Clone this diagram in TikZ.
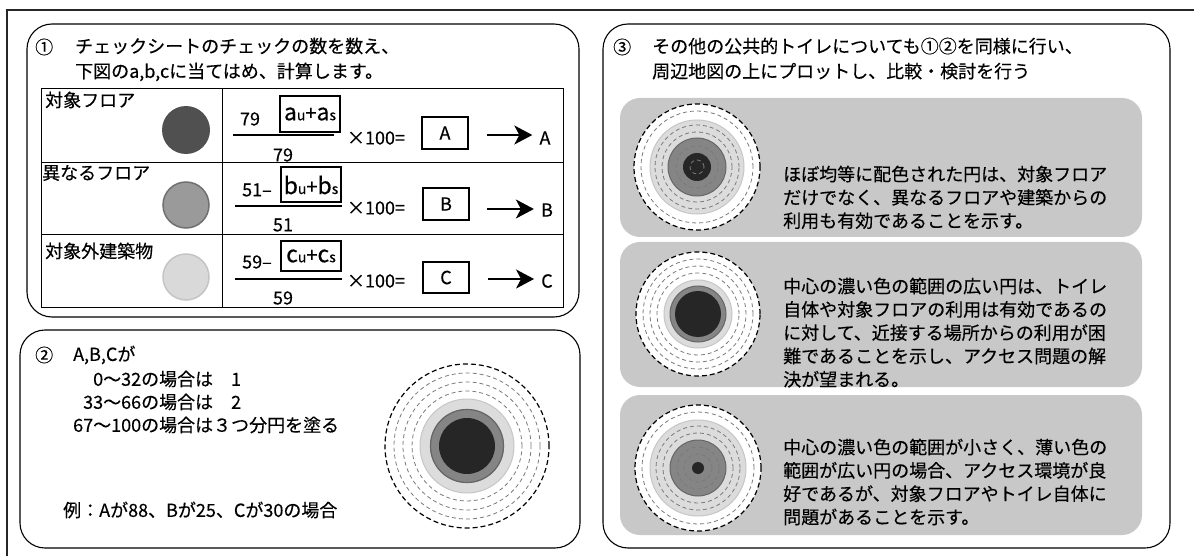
\documentclass[tikz,border=0pt]{standalone}
\usepackage{fontspec}
\setmainfont[FakeBold=0.35,AutoFakeBold=0]{Noto Sans CJK JP}
\usetikzlibrary{arrows.meta}
\definecolor{dk}{HTML}{262626}
\definecolor{md}{HTML}{858585}
\definecolor{mdb}{HTML}{666666}
\definecolor{lt}{HTML}{DCDCDC}
\definecolor{ltb}{HTML}{C6C6C6}
\definecolor{bxg}{HTML}{C8C8C8}
\definecolor{dsg}{HTML}{7A7A7A}
\definecolor{r1}{HTML}{505050}
\definecolor{r2}{HTML}{9A9A9A}
\definecolor{r2b}{HTML}{707070}
\definecolor{r3}{HTML}{D9D9D9}
\definecolor{r3b}{HTML}{C4C4C4}
\newcommand\subpair[2]{{\fontsize{23}{23}\selectfont #1}{\fontsize{14}{14}\selectfont #2}}
\newcommand\bigplus{{\fontsize{20}{20}\selectfont +}}
\begin{document}
\begin{tikzpicture}[x=1pt,y=-1pt,
  panel/.style={draw=black,line width=1.1pt,rounded corners=25pt},
  txt/.style={inner sep=0pt,font=\fontsize{18}{23.3}\selectfont,align=left},
  hdr/.style={inner sep=0pt,font=\fontsize{18}{25}\selectfont,align=left},
  gbox/.style={fill=bxg,rounded corners=20pt},
  fracline/.style={line width=2pt},
  numtxt/.style={inner sep=0pt,font=\fontsize{18}{18}\selectfont},
  subbox/.style={draw,line width=2pt,inner sep=0pt,minimum width=60pt},
  valbox/.style={draw,line width=1.6pt,inner sep=0pt,minimum width=46pt,minimum height=32pt,font=\fontsize{18}{18}\selectfont},
  arr/.style={line width=1.8pt,-{Stealth[length=18pt,width=19pt,inset=5pt]}},
  tdot/.style={circle,inner sep=0pt,minimum size=48pt},
  dsh/.style={draw=dsg,line width=0.8pt,dash pattern=on 4pt off 3pt},
  dshk/.style={draw=black,line width=1.2pt,dash pattern=on 5pt off 3pt}
]
\useasboundingbox (0,0) rectangle (1194,556);
% outer frame
\draw[line width=1.6pt,black!85] (1200,10) -- (7,10) -- (7,562);

% ---------- panel 1 ----------
\draw[panel] (27,24) rectangle (579,317);
\node[hdr,anchor=west] (c1) at (35,47) {①};
\node[hdr,anchor=north west] (h1) at (75,37.5) {チェックシートのチェックの数を数え、\\下図のa,b,cに当てはめ、計算します。};
% table
\draw[line width=1pt] (41,89) rectangle (563,307);
\draw[line width=1pt] (222,89) -- (222,307);
\draw[line width=1pt] (41,163) -- (563,163);
\draw[line width=1pt] (41,235) -- (563,235);
\node[txt,anchor=west] (t1) at (45,100) {対象フロア};
\node[txt,anchor=west] (t2) at (42,173) {異なるフロア};
\node[txt,anchor=west] (t3) at (45,251) {対象外建築物};
\node[tdot,fill=r1] (d1) at (186,130) {};
\node[tdot,fill=r2,draw=r2b,line width=1.5pt,minimum size=46pt] (d2) at (186,205) {};
\node[tdot,fill=r3,draw=r3b,line width=1.5pt,minimum size=46pt] (d3) at (186,277) {};
% row 1
\node[numtxt] (n1) at (250,119) {79};
\node[subbox,minimum height=36pt] (s1) at (310,114) {\subpair{a}{u}\bigplus\subpair{a}{s}};
\draw[fracline] (233,135) -- (334,135);
\node[numtxt] (m1) at (283,155) {79};
\node[numtxt] (x1) at (376,138) {×100=};
\node[valbox] (vA) at (445,133) {A};
\node[numtxt] (lA) at (545,138) {A};
\coordinate (aA) at (487,135);
\draw[arr] (aA) -- (aA -| lA.west) [shorten >=7pt];
% row 2
\node[numtxt] (n2) at (257,190) {51–};
\node[subbox,minimum height=35pt] (s2) at (311,185) {\subpair{b}{u}\bigplus\subpair{b}{s}};
\draw[fracline] (235,206) -- (342,206);
\node[numtxt] (m2) at (283,225) {51};
\node[numtxt] (x2) at (376,208) {×100=};
\node[valbox] (vB) at (446,204) {B};
\node[numtxt] (lB) at (547,210) {B};
\coordinate (aB) at (487,209);
\draw[arr] (aB) -- (aB -| lB.west) [shorten >=7pt];
% row 3
\node[numtxt] (n3) at (257,262) {59–};
\node[subbox,minimum height=30pt] (s3) at (311,256) {\subpair{c}{u}\bigplus\subpair{c}{s}};
\draw[fracline] (235,279) -- (342,279);
\node[numtxt] (m3) at (283,298) {59};
\node[numtxt] (x3) at (376,281) {×100=};
\node[valbox,minimum height=31pt] (vC) at (446,277.5) {C};
\node[numtxt] (lC) at (547,281) {C};
\coordinate (aC) at (488,279);
\draw[arr] (aC) -- (aC -| lC.west) [shorten >=7pt];

% ---------- panel 2 ----------
\draw[panel] (20,330) rectangle (580,548);
\node[hdr,anchor=west] (c2) at (35,355) {②};
\node[hdr,anchor=west] (h2) at (73,355) {A,B,Cが};
\node[txt,anchor=north west,font=\fontsize{18}{23}\selectfont] (r2) at (73,370.5) {\hphantom{00}0〜32の場合は　1\\\hphantom{0}33〜66の場合は　2\\67〜100の場合は３つ分円を塗る};
\node[txt,anchor=west] (ex) at (63,510) {例：Aが88、Bが25、Cが30の場合};
\begin{scope}[shift={(467,446)}]
  \fill[lt] (0,0) circle[radius=47pt];
  \draw[ltb,line width=1pt] (0,0) circle[radius=47pt];
  \fill[md] (0,0) circle[radius=37pt];
  \draw[mdb,line width=1.2pt] (0,0) circle[radius=36.5pt];
  \fill[dk] (0,0) circle[radius=28pt];
  \foreach \r in {55,64,73} \draw[dsh] (0,0) circle[radius=\r pt];
  \draw[dshk] (0,0) circle[radius=82pt];
\end{scope}

% ---------- panel 3 ----------
\draw[panel] (603,24) rectangle (1170,548);
\node[hdr,anchor=west] (c3) at (613,47) {③};
\node[hdr,anchor=north west] (h3) at (652,37.5) {その他の公共的トイレについても①②を同様に行い、\\周辺地図の上にプロットし、比較・検討を行う};
\fill[gbox] (620,98) rectangle (1142,237);
\fill[gbox] (620,242) rectangle (1142,387);
\fill[gbox] (620,395) rectangle (1142,535);
% circle 1
\begin{scope}[shift={(697,167)}]
  \fill[white] (0,0) circle[radius=63pt];
  \fill[lt] (0,0) circle[radius=47pt];
  \draw[ltb,line width=1pt] (0,0) circle[radius=47pt];
  \fill[md] (0,0) circle[radius=29pt];
  \draw[mdb,line width=1pt] (0,0) circle[radius=29pt];
  \fill[dk] (0,0) circle[radius=14pt];
  \foreach \r in {7,21,35,42,56} \draw[dsh] (0,0) circle[radius=\r pt];
  \draw[dshk] (0,0) circle[radius=63pt];
\end{scope}
% circle 2
\begin{scope}[shift={(698,314)}]
  \fill[white] (0,0) circle[radius=62pt];
  \fill[lt] (0,0) circle[radius=34pt];
  \draw[ltb,line width=1pt] (0,0) circle[radius=34pt];
  \fill[md] (0,0) circle[radius=28pt];
  \draw[mdb,line width=1pt] (0,0) circle[radius=28pt];
  \fill[dk] (0,0) circle[radius=23pt];
  \foreach \r in {41,48,55} \draw[dsh] (0,0) circle[radius=\r pt];
  \draw[dshk] (0,0) circle[radius=62pt];
\end{scope}
% circle 3
\begin{scope}[shift={(698,468)}]
  \fill[white] (0,0) circle[radius=63pt];
  \fill[lt] (0,0) circle[radius=48pt];
  \draw[ltb,line width=1pt] (0,0) circle[radius=48pt];
  \fill[md] (0,0) circle[radius=28pt];
  \draw[mdb,line width=1pt] (0,0) circle[radius=28pt];
  \fill[dk] (0,0) circle[radius=6pt];
  \foreach \r in {14,21,35,42,56} \draw[dsh] (0,0) circle[radius=\r pt];
  \draw[dshk] (0,0) circle[radius=63pt];
\end{scope}
\node[txt,anchor=north west] (b1) at (783,165.5) {ほぼ均等に配色された円は、対象フロア\\だけでなく、異なるフロアや建築からの\\利用も有効であることを示す。};
\node[txt,anchor=north west] (b2) at (783,277.5) {中心の濃い色の範囲の広い円は、トイレ\\自体や対象フロアの利用は有効であるの\\に対して、近接する場所からの利用が困\\難であることを示し、アクセス問題の解\\決が望まれる。};
\node[txt,anchor=north west] (b3) at (783,438.5) {中心の濃い色の範囲が小さく、薄い色の\\範囲が広い円の場合、アクセス環境が良\\好であるが、対象フロアやトイレ自体に\\問題があることを示す。};
\end{tikzpicture}
\end{document}
